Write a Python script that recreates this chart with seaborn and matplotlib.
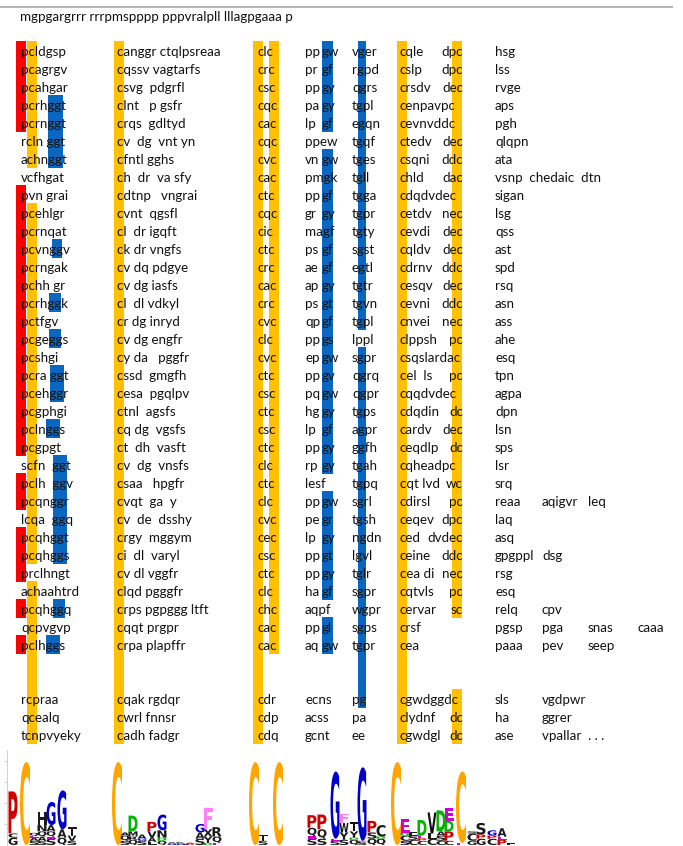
import matplotlib
matplotlib.use("Agg")
import matplotlib.pyplot as plt
import seaborn as sns
from matplotlib.textpath import TextPath
from matplotlib.font_manager import FontProperties
from matplotlib.patches import PathPatch
from matplotlib.transforms import Affine2D

# ---- data: alignment rows (two empty rows = gap) ----
top_line = "mgpgargrrr rrrpmspppp pppvralpll lllagpgaaa p"

col1 = ["pcldgsp", "pcagrgv", "pcahgar", "pcrhggt", "pcrnggt", "rcln ggt", "achnggt", "vcfhgat",
        "pvn grai", "pcehlgr", "pcrnqat", "pcvnggv", "pcrngak", "pchh gr", "pcrhggk", "pctfgv",
        "pcgeggs", "pcshgi", "pcra ggt", "pcehggr", "pcgphgi", "pclnggs", "pcgpgt", "scfn  ggt",
        "pclh  ggv", "pcqnggr", "lcqa  ggq", "pcqhggt", "pcqhggs", "prclhngt", "achaahtrd",
        "pcqhggq", "qcpvgvp", "pclhggs", "", "", "rcpraa", "qcealq", "tcnpvyeky"]
col2 = ["canggr ctqlpsreaa", "cqssv vagtarfs", "csvg  pdgrfl", "clnt   p gsfr", "crqs  gdltyd",
        "cv  dg  vnt yn", "cfntl gghs", "ch  dr  va sfy", "cdtnp   vngrai", "cvnt  qgsfl",
        "cl  dr igqft", "ck dr vngfs", "cv dq pdgye", "cv dg iasfs", "cl  dl vdkyl", "cr dg inryd",
        "cv dg engfr", "cy da   pggfr", "cssd  gmgfh", "cesa  pgqlpv", "ctnl  agsfs", "cq dg  vgsfs",
        "ct  dh  vasft", "cv  dg  vnsfs", "csaa   hpgfr", "cvqt  ga  y", "cv  de  dsshy",
        "crgy  mggym", "ci  dl  varyl", "cv dl vggfr", "clqd pgggfr", "crps pgpggg ltft",
        "cqqt prgpr", "crpa plapffr", "", "", "cqak rgdqr", "cwrl fnnsr", "cadh fadgr"]
col3 = ["clc", "crc", "csc", "cqc", "cac", "cqc", "cvc", "cac", "ctc", "cqc", "cic", "ctc", "crc",
        "cac", "crc", "cvc", "clc", "cvc", "ctc", "csc", "ctc", "csc", "ctc", "clc", "ctc", "clc",
        "cvc", "cec", "csc", "ctc", "clc", "chc", "cac", "cac", "", "", "cdr", "cdp", "cdq"]
col4 = ["pp gw", "pr gf", "pp gy", "pa gy", "lp  gf", "ppew", "vn gw", "pmgk", "pp gf", "gr  gy",
        "magf", "ps  gf", "ae  gf", "ap gy", "ps  gt", "qp gf", "pp gs", "ep gw", "pp gv", "pq gw",
        "hg gy", "lp  gf", "pp gy", "rp gy", "lesf", "pp gw", "pe gr", "lp  gy", "pp gt", "pp gy",
        "ha gf", "aqpf", "pp gl", "aq gw", "", "", "ecns", "acss", "gcnt"]
col5 = ["vger", "rgpd", "qgrs", "tgpl", "egqn", "tgqf", "tges", "tgll", "tgga", "tgpr", "tgty",
        "sgst", "egtl", "tgtr", "tgvn", "tgpl", "lppl", "sgpr", "qgrq", "qgpr", "tgps", "agpr",
        "ggfh", "tgah", "tgpq", "sgrl", "tgsh", "ngdn", "lgvl", "tglr", "sgpr", "wgpr", "sgps",
        "tgpr", "", "", "pg", "pa", "ee"]
col6 = ["cqle  dpc", "cslp  dpc", "crsdv dec", "cenpavpc", "cevnvddc", "ctedv dec", "csqni ddc",
        "chld  dac", "cdqdvdec", "cetdv nec", "cevdi  dec", "cqldv  dec", "cdrnv ddc", "cesqv dec",
        "cevni  ddc", "cnvei  nec", "clppsh  pc", "csqslardac", "cel  ls   pc", "cqqdvdec",
        "cdqdin dc", "cardv dec", "ceqdlp dc", "cqheadpc", "cqt lvd wc", "cdirsl    pc",
        "ceqev dpc", "ced dvdec", "ceine  ddc", "cea di nec", "cqtvls   pc", "cervar   sc",
        "crsf", "cea", "", "", "cgwdggdc", "clydnf  dc", "cgwdgl dc"]
col7 = ["hsg", "lss", "rvge", "aps", "pgh", "qlqpn", "ata", "vsnp  chedaic  dtn", "sigan", "lsg",
        "qss", "ast", "spd", "rsq", "asn", "ass", "ahe", "esq", "tpn", "agpa", "dpn", "lsn", "sps",
        "lsr", "srq", "reaa\taqigvr\tleq", "laq", "asq", "gpgppl\tdsg", "rsg", "esq", "relq\tcpv",
        "pgsp\tpga\tsnas\tcaaa", "paaa\tpev\tseep", "", "", "sls\tvgdpwr", "ha\tggrer",
        "ase\tvpallar  . . ."]

# ---- data: highlighted alignment columns (column, char offset, width in chars, row runs, colour) ----
hl_col = ["c1", "c1", "c1", "c1", "c1", "c1", "c1", "c1", "c1", "c1", "c1",
          "c2", "c3", "c3", "c4", "c5", "c6", "c6"]
hl_off = [0.0, 1.6, 5.2, 5.45, 5.15, 5.2, 5.45, 4.85, 5.9, 5.75, 4.9,
          0.3, 0.15, 2.6, 3.4, 1.5, 0.3, 8.6]
hl_span = [1.5, 1.5, 2.3, 1.5, 1.7, 1.8, 2.2, 2.0, 2.0, 1.8, 2.1,
           1.5, 1.5, 1.5, 1.6, 1.2, 1.5, 1.5]
hl_kind = ["red", "orange", "blue", "blue", "blue", "blue", "blue", "blue", "blue", "blue", "blue",
           "orange", "orange", "orange", "blue", "blue", "orange", "orange"]
hl_rows = [[(0, 4), (8, 22), (24, 25), (27, 29), (31, 31), (33, 33)],
           [(0, 6), (9, 28), (30, 38)],
           [(3, 6)], [(11, 11)], [(14, 14)], [(16, 16)], [(18, 19)], [(21, 21)],
           [(23, 28)], [(31, 31)], [(33, 33)],
           [(0, 38)],
           [(0, 38)],
           [(0, 33)],
           [(0, 4), (6, 23), (25, 30), (32, 33)],
           [(0, 15), (17, 36)],
           [(0, 38)],
           [(0, 31), (36, 38)]]

# ---- data: sequence logo (site, letters bottom->top, heights in bits; lowercase = grey/black) ----
logo_site = [13, 25, 34, 42, 51, 62, 72, 117, 125, 133, 142, 152, 162, 172, 181, 190, 200, 208,
             217, 254, 263, 278, 312, 322, 335, 344, 354, 362, 372, 381, 396, 405, 413, 422, 432,
             441, 449, 461, 472, 481, 492, 502, 511]
logo_letters = ["gcP", "C", "saEq", "saqnh", "sEqaG", "qaG", "svt", "C", "sqa", "qrmD", "sGa",
                "laVP", "qDnG", "Ga", "Gk", "Pa", "saG", "DyxF", "Eqr", "C", "st", "C",
                "sEqP", "sqP", "sEG", "syWF", "qDyT", "sPG", "qsP", "qDc", "C", "scDE", "cse",
                "cPED", "clV", "csaD", "cPDE", "EC", "gcs", "gPs", "cPG", "PEa", "e"]
logo_heights = [[0.35, 0.2, 2.0], [3.95], [0.2, 0.15, 0.08, 0.15], [0.2, 0.2, 0.25, 0.3, 0.6],
                [0.3, 0.1, 0.25, 0.3, 1.1], [0.35, 0.4, 1.85], [0.2, 0.25, 0.4], [3.95],
                [0.2, 0.25, 0.15], [0.25, 0.15, 0.25, 0.75], [0.2, 0.1, 0.2],
                [0.15, 0.2, 0.3, 0.45], [0.2, 0.15, 0.35, 0.75], [0.08, 0.05], [0.08, 0.05],
                [0.05, 0.06], [0.3, 0.3, 0.4], [0.1, 0.3, 0.35, 1.0], [0.1, 0.3, 0.45], [3.95],
                [0.2, 0.3], [3.95], [0.3, 0.12, 0.4, 0.6], [0.3, 0.45, 0.7], [0.2, 0.1, 3.2],
                [0.25, 0.35, 0.45, 0.45], [0.25, 0.1, 0.3, 0.45], [0.15, 0.05, 3.5],
                [0.3, 0.3, 0.55], [0.3, 0.1, 0.55], [3.95], [0.2, 0.25, 0.12, 0.65],
                [0.25, 0.2, 0.15], [0.2, 0.12, 0.12, 0.75], [0.3, 0.25, 1.0], [0.2, 0.25, 0.2, 1.0],
                [0.2, 0.45, 0.5, 0.6], [0.1, 3.4], [0.2, 0.35, 0.1], [0.3, 0.2, 0.55],
                [0.3, 0.15, 0.25], [0.25, 0.15, 0.4], [0.08]]

# ---- layout / style ----
W, H = 683, 846
ROW_Y0, ROW_H = 51, 18
CW = 6.6
COL_X = {"c1": 21, "c2": 117, "c3": 257, "c4": 305, "c5": 352, "c6": 400, "c7": 495}
C4_SECOND_X = 322
C6_RIGHT_X = 463
TAB_X = [495, 542, 588, 637]
HL_COLORS = {"red": "#FF0000", "orange": "#FFC000", "blue": "#0A66BE"}
LOGO_COLORS = {"C": "#FFA500", "G": "#0000C8", "P": "#D00000", "D": "#00B400",
               "E": "#D000D0", "F": "#FF80FF"}
FS = 9.6

sns.set_theme(style="white")
plt.rcParams["font.family"] = ["Lato", "DejaVu Sans"]

fig = plt.figure(figsize=(W / 100, H / 100), dpi=100)
ax = fig.add_axes([0, 0, 1, 1])
ax.set_xlim(0, W)
ax.set_ylim(H, 0)
ax.axis("off")

def row_y(i):
    return ROW_Y0 + i * ROW_H

# highlight columns as bars
xs, bots, hts, wds, cols = [], [], [], [], []
for g, off, span, kind, runs in zip(hl_col, hl_off, hl_span, hl_kind, hl_rows):
    for r0, r1 in runs:
        xs.append(COL_X[g] + off * CW)
        bots.append(row_y(r0) - 10)
        hts.append(row_y(r1) - row_y(r0) + 19)
        wds.append(span * CW)
        cols.append(HL_COLORS[kind])
ax.bar(xs, hts, bottom=bots, width=wds, color=cols, linewidth=0, zorder=1)

# text
ax.hlines(7, 0, 673, color="#a6a6a6", lw=1.2)
ax.text(20, 21, top_line, fontsize=FS, va="baseline", color="#111111")

txt = dict(fontsize=FS, va="baseline", color="#111111", zorder=3)
for i in range(len(col1)):
    y = row_y(i) + 4.5
    ax.text(COL_X["c1"], y, col1[i], **txt)
    ax.text(COL_X["c2"], y, col2[i], **txt)
    ax.text(COL_X["c3"], y, col3[i], **txt)
    parts = col4[i].split()
    if len(parts) == 2:
        ax.text(COL_X["c4"], y, parts[0], **txt)
        ax.text(C4_SECOND_X, y, parts[1], **txt)
    elif parts:
        ax.text(COL_X["c4"], y, parts[0], **txt)
    ax.text(COL_X["c5"], y, col5[i], **txt)
    s6 = col6[i].rstrip()
    if " " in s6:
        left, right = s6.rsplit(" ", 1)
        ax.text(COL_X["c6"], y, left.rstrip(), **txt)
        ax.text(C6_RIGHT_X, y, right, ha="right", **txt)
    else:
        ax.text(COL_X["c6"], y, s6, **txt)
    for k, tok in enumerate(col7[i].split("\t")):
        ax.text(TAB_X[k], y, tok, **txt)

# sequence logo
lax = fig.add_axes([7 / W, 1 / H, (W - 7) / W, 95 / H])
lax.set_xlim(7, W)
lax.set_ylim(0, 95 / 21)
lax.patch.set_alpha(0)
for s in ["top", "right", "bottom"]:
    lax.spines[s].set_visible(False)
lax.spines["left"].set_color("#c8c8c8")
lax.spines["left"].set_linewidth(0.6)
lax.set_xticks([])
lax.set_yticks([1, 2, 3, 4])
lax.set_yticklabels([])
lax.tick_params(axis="y", length=2, width=0.6, color="#c8c8c8", left=True)

logo_font = FontProperties(family="DejaVu Sans", weight="bold")

def draw_letter(a, ch, xc, bottom, w, h, color):
    tp = TextPath((0, 0), ch, size=1, prop=logo_font)
    bb = tp.get_extents()
    tr = Affine2D().translate(-bb.x0, -bb.y0).scale(w / bb.width, h / bb.height)
    tr = tr.translate(xc - w / 2, bottom)
    a.add_patch(PathPatch(tr.transform_path(tp), facecolor=color, lw=0))

for xc, letters, heights in zip(logo_site, logo_letters, logo_heights):
    base = 0.0
    for ch, h in zip(letters, heights):
        if ch.islower():
            color = "#1a1a1a"
        else:
            color = LOGO_COLORS.get(ch, "#111111")
        w = 10 if ch == "C" and h > 3 else 9
        draw_letter(lax, ch.upper(), xc, base, w, h, color)
        base += h

fig.savefig("out.png", dpi=100)
